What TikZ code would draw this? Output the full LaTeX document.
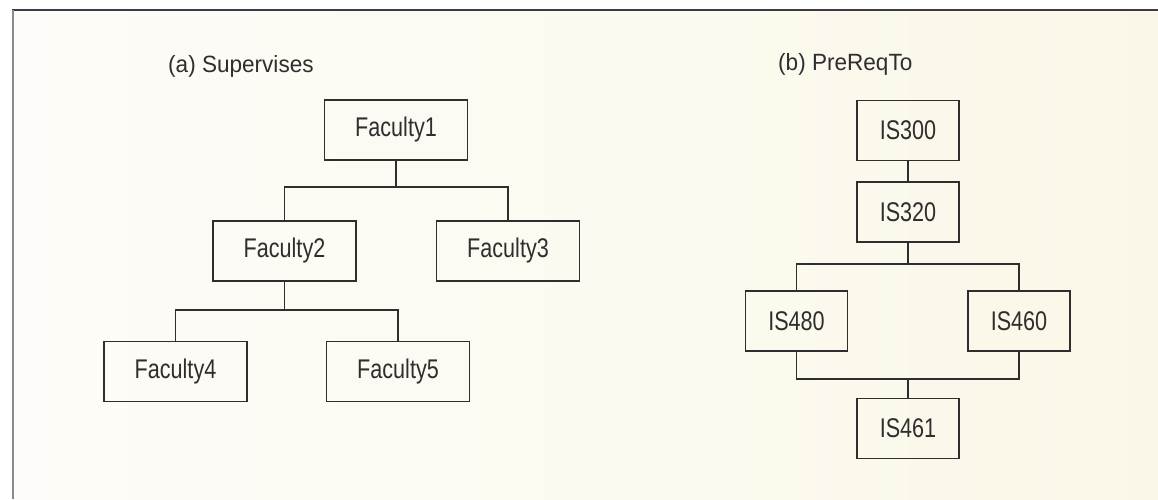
\documentclass[tikz,border=0pt]{standalone}
\usepackage{fontspec}
\setmainfont{Liberation Sans}
\newfontfamily\boxfont[FakeStretch=0.8]{Liberation Sans}
\newfontfamily\titlefont[FakeStretch=0.96]{Liberation Sans}
\definecolor{paperL}{HTML}{FDFCF8}
\definecolor{paperR}{HTML}{FBF7E8}
\definecolor{ink}{HTML}{2E2E2E}
\definecolor{topline}{HTML}{3A3A48}
\definecolor{leftline}{HTML}{8A8A88}
\begin{document}
\begin{tikzpicture}[x=1pt,y=-1pt,
  entity/.style={draw=ink,line width=1.4pt,minimum width=143pt,minimum height=60pt,
    inner sep=0pt,text=ink,font=\boxfont\fontsize{27}{31}\selectfont},
  course/.style={entity,minimum width=102pt},
  caption/.style={anchor=base west,inner sep=0pt,text=ink,font=\titlefont\fontsize{23.5}{27}\selectfont},
  link/.style={draw=ink,line width=1.2pt}]
\useasboundingbox (0,0) rectangle (1158,499);
\fill[white] (0,0) rectangle (1158,499);
\shade[left color=paperL,right color=paperR] (13,10) rectangle (1158,499);
\draw[topline,line width=2pt] (12,10) -- (1158,10);
\draw[leftline,line width=2pt] (13,10) -- (13,499);

% (a) Supervises
\node[caption] (ta) at (168,72) {(a) Supervises};
\node[entity] (f1) at (396,130) {Faculty1};
\node[entity] (f2) at (284.5,251) {Faculty2};
\node[entity] (f3) at (508,251) {Faculty3};
\node[entity] (f4) at (175.5,371.5) {Faculty4};
\node[entity] (f5) at (398,371.5) {Faculty5};
\coordinate (ba1) at (396,187);
\coordinate (ba2) at (284.5,310);
\draw[link] (f1.south) -- (ba1);
\draw[link] (f2.north) |- (ba1) -| (f3.north);
\draw[link] (f2.south) -- (ba2);
\draw[link] (f4.north) |- (ba2) -| (f5.north);

% (b) PreReqTo
\node[caption] (tb) at (778,70) {(b) PreReqTo};
\node[course] (c300) at (908,130.5) {IS300};
\node[course] (c320) at (908,212) {IS320};
\node[course] (c480) at (796.5,321) {IS480};
\node[course] (c460) at (1019,321) {IS460};
\node[course] (c461) at (908,428.5) {IS461};
\coordinate (bb1) at (908,264);
\coordinate (bb2) at (908,379);
\draw[link] (c300.south) -- (c320.north);
\draw[link] (c320.south) -- (bb1);
\draw[link] (c480.north) |- (bb1) -| (c460.north);
\draw[link] (c480.south) |- (bb2) -| (c460.south);
\draw[link] (bb2) -- (c461.north);
\end{tikzpicture}
\end{document}
